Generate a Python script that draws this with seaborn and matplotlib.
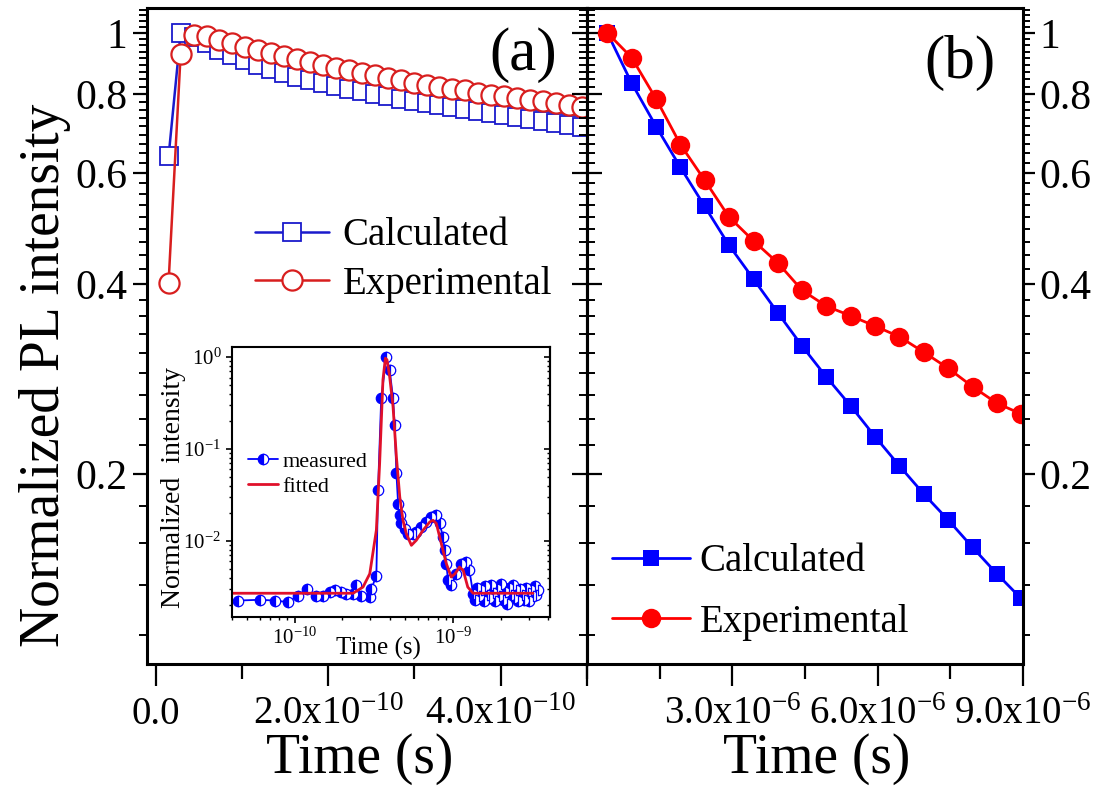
import numpy as np
import matplotlib
matplotlib.use("Agg")
import matplotlib.pyplot as plt
import seaborn as sns
from matplotlib.ticker import FixedLocator, FixedFormatter, NullFormatter

# ---------------- data ----------------
# panel (a): time in units of 1e-10 s
time_a = [0.15, 0.29, 0.44, 0.59, 0.74, 0.89, 1.04, 1.19, 1.34, 1.49, 1.64,
          1.79, 1.94, 2.09, 2.24, 2.39, 2.54, 2.69, 2.84, 2.99, 3.14, 3.29,
          3.44, 3.59, 3.74, 3.89, 4.04, 4.19, 4.34, 4.49, 4.64, 4.79, 4.94]
calc_a = [0.637, 1.0, 0.986, 0.962, 0.940, 0.921, 0.905, 0.890, 0.876, 0.863,
          0.852, 0.841, 0.832, 0.823, 0.816, 0.809, 0.801, 0.794, 0.786, 0.781,
          0.774, 0.768, 0.762, 0.757, 0.751, 0.746, 0.741, 0.735, 0.730, 0.724,
          0.721, 0.715, 0.710]
exp_a = [0.402, 0.926, 0.993, 0.987, 0.975, 0.963, 0.951, 0.940, 0.929, 0.918,
         0.909, 0.898, 0.890, 0.880, 0.873, 0.865, 0.857, 0.849, 0.842, 0.834,
         0.828, 0.822, 0.816, 0.811, 0.803, 0.798, 0.793, 0.789, 0.784, 0.779,
         0.775, 0.770, 0.764]

# panel (b): time in units of 1e-6 s
time_b = [0.42, 0.92, 1.43, 1.93, 2.43, 2.93, 3.44, 3.94, 4.44, 4.94, 5.45,
          5.95, 6.45, 6.95, 7.46, 7.96, 8.46, 8.96]
calc_b = [1.0, 0.833, 0.710, 0.612, 0.531, 0.461, 0.407, 0.360, 0.319, 0.285,
          0.256, 0.229, 0.206, 0.186, 0.169, 0.153, 0.139, 0.127]
exp_b = [1.0, 0.914, 0.785, 0.665, 0.584, 0.511, 0.468, 0.432, 0.391, 0.369,
         0.356, 0.343, 0.330, 0.312, 0.294, 0.275, 0.259, 0.249]

# inset: time in units of 1e-10 s
t_measured = [0.44, 0.60, 0.75, 0.91, 1.05, 1.19, 1.37, 1.51, 1.66, 1.79, 1.97,
              2.12, 2.34, 2.45, 2.64, 2.98, 3.05, 3.28, 3.36, 3.52, 3.79, 3.98,
              4.18, 4.28, 4.39, 4.50, 4.61, 4.72, 4.95, 5.20, 5.59, 5.87, 6.31,
              6.79, 7.30, 7.85, 8.24, 8.65, 8.86, 9.08, 9.30, 9.75, 10.5, 11.3,
              12.1, 12.7, 13.4, 13.8, 14.2, 14.7, 15.1, 15.6, 16.0, 16.5, 17.0,
              17.5, 18.0, 18.5, 19.0, 19.6, 20.1, 20.7, 21.3, 21.9, 22.5, 23.1,
              23.8, 24.4, 25.1, 25.8, 26.5, 27.2, 28.0, 28.8, 29.6, 30.4, 31.2,
              32.0, 32.8, 33.6, 34.4]
i_measured = [2.25e-3, 2.29e-3, 2.25e-3, 2.16e-3, 2.55e-3, 3.0e-3, 2.55e-3,
              2.55e-3, 2.78e-3, 2.9e-3, 2.78e-3, 2.66e-3, 2.66e-3, 3.28e-3,
              2.55e-3, 2.45e-3, 3.0e-3, 4.2e-3, 3.57e-2, 0.357, 1.0, 0.727,
              0.357, 0.183, 0.0543, 0.0255, 0.019, 0.0155, 0.0136, 0.012, 0.012,
              0.0125, 0.0142, 0.0161, 0.0183, 0.019, 0.0155, 0.011, 7.9e-3,
              5.66e-3, 3.72e-3, 3.28e-3, 4.4e-3, 5.66e-3, 5.9e-3, 4.79e-3,
              2.66e-3, 2.3e-3, 3.1e-3, 2.5e-3, 2.9e-3, 2.2e-3, 3.2e-3, 2.6e-3,
              2.4e-3, 3.3e-3, 2.7e-3, 2.2e-3, 3.0e-3, 2.5e-3, 3.4e-3, 2.3e-3,
              2.8e-3, 2.05e-3, 3.1e-3, 2.6e-3, 3.3e-3, 2.4e-3, 2.9e-3, 2.2e-3,
              3.0e-3, 2.6e-3, 2.3e-3, 3.1e-3, 2.7e-3, 2.2e-3, 2.9e-3, 2.5e-3,
              3.2e-3, 2.6e-3, 2.9e-3]
t_fitted = [0.40, 2.34, 2.70, 2.98, 3.28, 3.44, 3.61, 3.74, 3.83, 3.98, 4.18,
            4.39, 4.61, 4.83, 5.07, 5.46, 5.87, 6.47, 7.13, 7.48, 7.85, 8.44,
            9.08, 9.75, 10.3, 11.0, 11.6, 12.4, 13.4, 32.0]
i_fitted = [2.7e-3, 2.7e-3, 3.15e-3, 4.4e-3, 0.0131, 0.0698, 0.566, 0.975,
            0.935, 0.615, 0.29, 0.0825, 0.0302, 0.0168, 0.012, 8.97e-3, 0.0102,
            0.0131, 0.0161, 0.0168, 0.0155, 9.35e-3, 5.66e-3, 4.05e-3, 4.4e-3,
            5.2e-3, 4.79e-3, 3.15e-3, 2.7e-3, 2.7e-3]

# tick labels
y_major = [0.2, 0.4, 0.6, 0.8, 1.0]
y_major_labels = ["0.2", "0.4", "0.6", "0.8", "1"]
xa_major = [0.0, 2e-10, 4e-10]
xa_labels = ["0.0", "2.0x10$^{-10}$", "4.0x10$^{-10}$"]
xa_minor = [1e-10, 3e-10, 5e-10]
xb_major = [0.0, 3e-6, 6e-6, 9e-6]
xb_labels = ["", "3.0x10$^{-6}$", "6.0x10$^{-6}$", "9.0x10$^{-6}$"]
xb_minor = [1.5e-6, 4.5e-6, 7.5e-6]

# ---------------- style ----------------
sns.set_theme(style="ticks")
plt.rcParams.update({
    "font.family": ["Liberation Serif", "DejaVu Serif"],
    "mathtext.fontset": "custom",
    "mathtext.rm": "Liberation Serif",
    "mathtext.it": "Liberation Serif:italic",
    "mathtext.bf": "Liberation Serif:bold",
    "mathtext.default": "regular",
    "axes.linewidth": 2.2,
    "axes.edgecolor": "black",
    "xtick.color": "black",
    "ytick.color": "black",
    "text.color": "black",
    "axes.labelcolor": "black",
})

BLUE = "#0000ff"
RED = "#ff0000"
BLUE_D = "#1a1acc"
RED_D = "#d81e1e"
FIT_RED = "#e0102a"

# linear minor ticks on the log axis (8 per 0.2 step)
y_minor = [round(k * 0.2 / 9, 5) for k in range(5, 50) if k % 9 != 0]

W, H = 1105, 794
fig = plt.figure(figsize=(W / 100, H / 100), dpi=100)


def rect(x0, y0, x1, y1):
    return [x0 / W, 1 - y1 / H, (x1 - x0) / W, (y1 - y0) / H]


ax1 = fig.add_axes(rect(147, 8, 587, 664))
ax2 = fig.add_axes(rect(587, 8, 1023, 664))

# ---------------- panel (a) ----------------
ta = np.array(time_a) * 1e-10
sns.lineplot(x=ta, y=calc_a, ax=ax1, color=BLUE_D, linewidth=1.8, marker="s",
             markersize=13.5, markerfacecolor="white", markeredgecolor=BLUE_D,
             markeredgewidth=1.3, errorbar=None, legend=False)
sns.lineplot(x=ta, y=exp_a, ax=ax1, color=RED_D, linewidth=1.8, marker="o",
             markersize=14.5, markerfacecolor="white", markeredgecolor=RED_D,
             markeredgewidth=1.6, errorbar=None, legend=False)
la = ax1.get_lines()
ax1.legend(handles=la[:2], labels=["Calculated", "Experimental"],
           loc="center left", bbox_to_anchor=(0.2455, 0.6159), frameon=False,
           fontsize=28, handlelength=1.9, handletextpad=0.35, labelspacing=0.3,
           borderpad=0, borderaxespad=0, numpoints=1)

for ax in (ax1, ax2):
    ax.set_yscale("log")
    ax.set_ylim(0.1, 1.095)
    ax.yaxis.set_major_locator(FixedLocator(y_major))
    ax.yaxis.set_minor_locator(FixedLocator(y_minor))
    ax.yaxis.set_major_formatter(FixedFormatter(y_major_labels))
    ax.yaxis.set_minor_formatter(NullFormatter())
    ax.set_ylabel("")
    ax.tick_params(axis="x", which="both", bottom=True, top=False,
                   direction="out", labelsize=28, pad=7)
    ax.tick_params(axis="x", which="major", length=16, width=1.6)
    ax.tick_params(axis="x", which="minor", length=10.5, width=1.6)

ax1.set_xlim(-0.1e-10, 5e-10)
ax1.xaxis.set_major_locator(FixedLocator(xa_major))
ax1.xaxis.set_major_formatter(FixedFormatter(xa_labels))
ax1.xaxis.set_minor_locator(FixedLocator(xa_minor))
ax1.tick_params(axis="y", which="both", left=True, right=False,
                direction="out", labelsize=30, pad=4)
ax1.tick_params(axis="y", which="major", length=10, width=1.6)
ax1.tick_params(axis="y", which="minor", length=5.5, width=1.4)

ax1.set_ylabel("Normalized PL intensity", fontsize=40)
ax1.yaxis.set_label_coords(-0.172, 0.4405)
ax1.set_xlabel("Time (s)", fontsize=40)
ax1.xaxis.set_label_coords(0.484, -0.105)
ax1.text(0.8545, 0.928, "(a)", transform=ax1.transAxes, fontsize=44,
         ha="center", va="center")

# ---------------- panel (b) ----------------
tb = np.array(time_b) * 1e-6
sns.lineplot(x=tb, y=calc_b, ax=ax2, color=BLUE, linewidth=2.0, marker="s",
             markersize=12, markerfacecolor=BLUE, markeredgecolor=BLUE,
             markeredgewidth=0, errorbar=None, legend=False)
sns.lineplot(x=tb, y=exp_b, ax=ax2, color=RED, linewidth=2.0, marker="o",
             markersize=14, markerfacecolor=RED, markeredgecolor=RED,
             markeredgewidth=0, errorbar=None, legend=False)
lb = ax2.get_lines()
ax2.legend(handles=lb[:2], labels=["Calculated", "Experimental"],
           loc="center left", bbox_to_anchor=(0.0573, 0.1098), frameon=False,
           fontsize=28, handlelength=2.0, handletextpad=0.25, labelspacing=0.6,
           borderpad=0, borderaxespad=0, numpoints=1)

ax2.set_xlim(0, 9e-6)
ax2.xaxis.set_major_locator(FixedLocator(xb_major))
ax2.xaxis.set_major_formatter(FixedFormatter(xb_labels))
ax2.xaxis.set_minor_locator(FixedLocator(xb_minor))
ax2.yaxis.tick_right()
ax2.tick_params(axis="y", which="both", left=False, right=True,
                labelleft=False, labelright=True, direction="out",
                labelsize=30, pad=3)
ax2.tick_params(axis="y", which="major", length=8.6, width=1.6)
ax2.tick_params(axis="y", which="minor", length=5, width=1.4)
ax2.set_xlabel("Time (s)", fontsize=40)
ax2.xaxis.set_label_coords(0.5275, -0.105)
ax2.text(0.8555, 0.916, "(b)", transform=ax2.transAxes, fontsize=44,
         ha="center", va="center")

# ticks on the shared middle spine (pointing into both panels)
sec_mid = ax2.secondary_yaxis("left")
sec_mid.yaxis.set_major_locator(FixedLocator(y_major))
sec_mid.yaxis.set_minor_locator(FixedLocator(y_minor))
sec_mid.yaxis.set_major_formatter(NullFormatter())
sec_mid.yaxis.set_minor_formatter(NullFormatter())
sec_mid.tick_params(axis="y", which="major", direction="inout", length=22,
                    width=1.6)
sec_mid.tick_params(axis="y", which="minor", direction="inout", length=11,
                    width=1.4)

# ---------------- inset ----------------
axi = fig.add_axes(rect(231.7, 346.7, 550, 616.7))
axi.set_facecolor("white")
sns.lineplot(x=np.array(t_measured) * 1e-10, y=i_measured, ax=axi, color=BLUE,
             linewidth=1.3, marker="o", markersize=7.5, fillstyle="left",
             markerfacecolor=BLUE, markerfacecoloralt="white",
             markeredgecolor=BLUE, markeredgewidth=0.9, errorbar=None,
             legend=False)
sns.lineplot(x=np.array(t_fitted) * 1e-10, y=i_fitted, ax=axi, color=FIT_RED,
             linewidth=2.0, errorbar=None, legend=False)
li = axi.get_lines()
axi.set_xscale("log")
axi.set_yscale("log")
axi.set_xlim(4e-11, 4.1e-9)
axi.set_ylim(1.5e-3, 1.3)
axi.xaxis.set_minor_formatter(NullFormatter())
axi.yaxis.set_minor_formatter(NullFormatter())
for s in axi.spines.values():
    s.set_linewidth(1.5)
axi.tick_params(axis="both", which="both", direction="out", top=False,
                right=False, labelsize=15, pad=3)
axi.tick_params(axis="both", which="major", length=4.5, width=1.2)
axi.tick_params(axis="both", which="minor", length=2.5, width=1.0)
axi.set_ylabel("Normalized  intensity", fontsize=20)
axi.yaxis.set_label_coords(-0.1436, 0.4767)
axi.set_xlabel("Time (s)", fontsize=18)
axi.xaxis.set_label_coords(0.46, -0.075)
axi.legend(handles=li[:2], labels=["measured", "fitted"], loc="center left",
           bbox_to_anchor=(0.051, 0.5285), frameon=False, fontsize=16,
           handlelength=1.35, handletextpad=0.2, labelspacing=0.2,
           borderpad=0, borderaxespad=0, numpoints=1)

sec_in = axi.secondary_yaxis("right")
sec_in.spines["right"].set_linewidth(1.5)
sec_in.yaxis.set_major_formatter(NullFormatter())
sec_in.yaxis.set_minor_formatter(NullFormatter())
sec_in.tick_params(axis="y", which="major", direction="in", length=4.5,
                   width=1.2)
sec_in.tick_params(axis="y", which="minor", direction="in", length=2.5,
                   width=1.0)

fig.savefig("out.png", dpi=100)
